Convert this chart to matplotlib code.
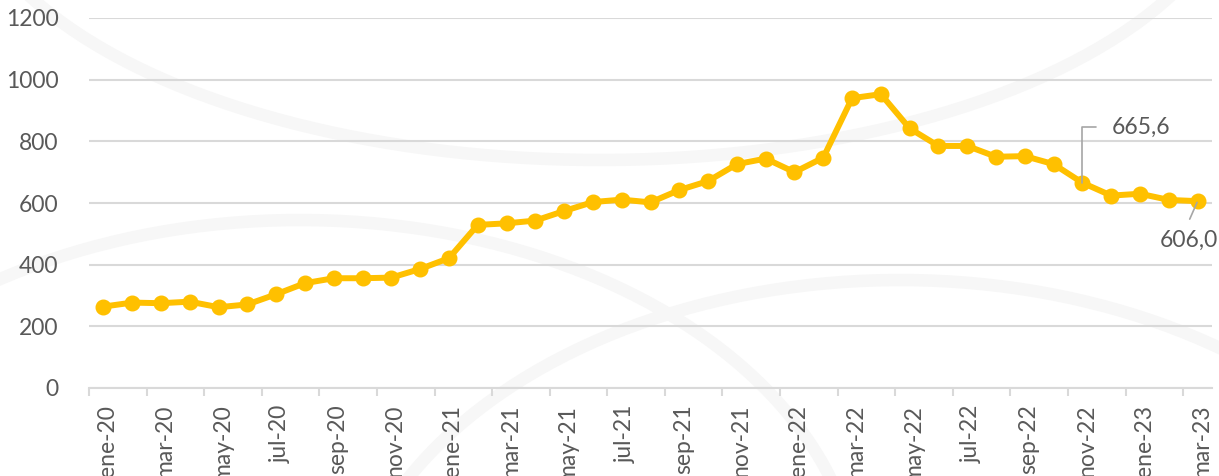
import matplotlib
matplotlib.use("Agg")
import matplotlib.pyplot as plt
import matplotlib.transforms as mtransforms
import numpy as np

months = ["ene", "feb", "mar", "abr", "may", "jun", "jul", "ago", "sep", "oct", "nov", "dic"]
categories = [f"{m}-{y}" for y in ["20", "21", "22"] for m in months] + ["ene-23", "feb-23", "mar-23"]
values = [264, 277, 275, 280, 262, 271, 304, 340, 356, 356, 358, 386,
          421, 529, 534, 543, 574, 603, 611, 602, 642, 671, 726, 744,
          700, 747, 940, 953, 842, 785, 785, 750, 752, 726, 665.6, 624,
          630, 610, 606.0]
yticks = [0, 200, 400, 600, 800, 1000, 1200]
label1 = "665,6"
label2 = "606,0"

plt.rcParams['font.family'] = ['Lato', 'DejaVu Sans']
text_color = "#595959"
gold = "#FFC000"
fs = 16.5

fig = plt.figure(figsize=(12.19, 4.76), dpi=100)
ax = fig.add_axes([89/1219, 1-388/476, (1212-89)/1219, (388-18)/476])
ax.set_facecolor("none")

# very faint watermark arcs
wm = fig.add_axes([0, 0, 1, 1], zorder=-5)
wm.set_xlim(0, 1219); wm.set_ylim(476, 0); wm.axis("off")
t = np.linspace(0, np.pi, 200)
for cx, cy, rx, ry in [(300, 600, 560, 380), (900, 660, 560, 380)]:
    wm.plot(cx + rx*np.cos(t), cy - ry*np.sin(t), color="#F7F7F7", lw=9)
for cx, cy, rx, ry in [(600, -140, 640, 300)]:
    wm.plot(cx + rx*np.cos(t), cy + ry*np.sin(t), color="#F7F7F7", lw=9)

x = np.arange(len(values))
ax.plot(x, values, color=gold, lw=4.3, marker="o", markersize=10.5, zorder=3)

ax.set_xlim(-0.5, len(values) - 0.5)
ax.set_ylim(0, 1200)
ax.set_yticks(yticks)
ax.set_yticklabels([str(v) for v in yticks])
ax.yaxis.grid(True, color="#D9D9D9", lw=1.5)
ax.set_axisbelow(True)
ax.tick_params(axis="y", length=0, pad=22, labelsize=fs, labelcolor=text_color)

ax.set_xticks(x[::2])
ax.set_xticklabels(categories[::2], rotation=90, ha="center", va="top")
ax.set_xticks(np.arange(-0.5, len(values) - 1, 2), minor=True)
ax.tick_params(axis="x", which="major", length=0, pad=12, labelsize=fs, labelcolor=text_color)
ax.tick_params(axis="x", which="minor", length=6, width=1.5, color="#D9D9D9")
shift = mtransforms.ScaledTranslation(4/100, 0, fig.dpi_scale_trans)
for lab in ax.get_xticklabels():
    lab.set_transform(lab.get_transform() + shift)

for s in ["top", "right", "left"]:
    ax.spines[s].set_visible(False)
ax.spines["bottom"].set_color("#D9D9D9")
ax.spines["bottom"].set_linewidth(1.5)

ax.annotate(label1, xy=(34, values[34]), xytext=(21, 40), textcoords="offset points",
            ha="left", va="center", fontsize=fs, color=text_color,
            arrowprops=dict(arrowstyle="-", color="#A6A6A6", lw=1.2,
                            connectionstyle="angle,angleA=0,angleB=90,rad=0",
                            shrinkA=9, shrinkB=0, relpos=(0, 0.5)))
ax.annotate(label2, xy=(38, values[38]), xytext=(-27, -28), textcoords="offset points",
            ha="left", va="center", fontsize=fs, color=text_color,
            arrowprops=dict(arrowstyle="-", color="#A6A6A6", lw=1.2,
                            shrinkA=6, shrinkB=1, relpos=(0.43, 1)))

fig.savefig("out.png", dpi=100)
